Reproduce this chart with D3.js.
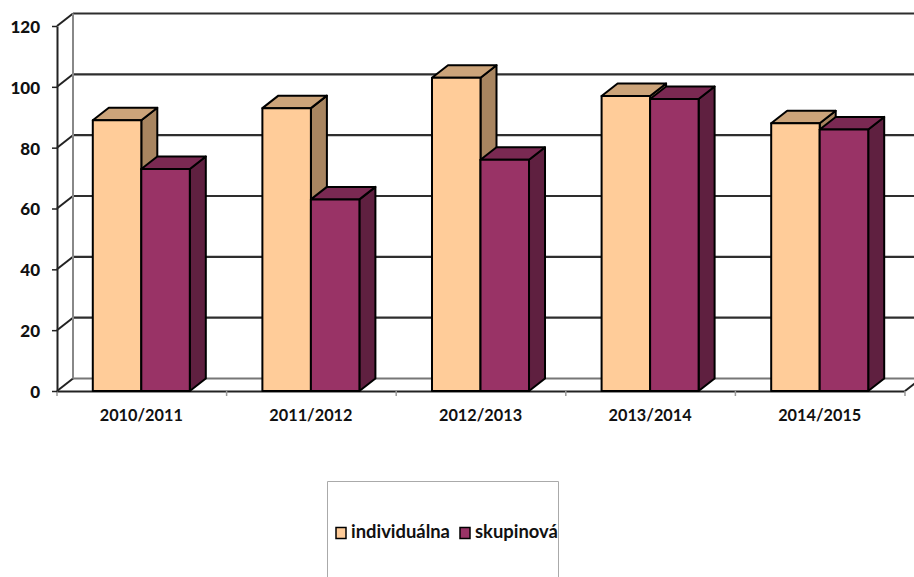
<!DOCTYPE html>
<html>
<head>
<meta charset="utf-8">
<script src="https://cdn.jsdelivr.net/npm/d3@7"></script>
<style>
html, body { margin: 0; padding: 0; background: #fff; overflow: hidden; }
svg { display: block; font-family: Lato, "Open Sans", sans-serif; font-weight: 700; }
</style>
</head>
<body>
<div id="chart"></div>
<script>
const years = ["2010/2011", "2011/2012", "2012/2013", "2013/2014", "2014/2015"];
const seriesNames = ["individuálna", "skupinová"];
const individualna = [89, 93, 103, 97, 88];
const skupinova = [73, 63, 76, 96, 86];
const yTicks = [0, 20, 40, 60, 80, 100, 120];

const colors = {
    "individuálna": { front: "#ffcc99", top: "#cca47a", side: "#a88560" },
    "skupinová": { front: "#993366", top: "#7a2952", side: "#5f2040" }
};

const width = 914, height = 577;
const depthX = 16, depthY = 12.5;

const wrapper = d3.select("#chart").append("svg")
    .attr("width", width)
    .attr("height", height);

const xScaler = d3.scaleBand()
    .domain(years)
    .range([56.5, 904.5])
    .paddingInner(0.428)
    .paddingOuter(0.214);

const xInner = d3.scaleBand()
    .domain(seriesNames)
    .range([0, xScaler.bandwidth()]);

const yScaler = d3.scaleLinear()
    .domain([0, 120])
    .range([391, 26]);

// back wall gridlines
const walls = wrapper.append("g");
walls.selectAll("line.grid")
    .data(yTicks)
    .enter().append("line")
    .attr("class", "grid")
    .attr("x1", 57 + depthX)
    .attr("x2", 905 + depthX)
    .attr("y1", d => yScaler(d) - depthY)
    .attr("y2", d => yScaler(d) - depthY)
    .attr("stroke", d => d == 0 ? "#777" : "#2e2e2e")
    .attr("stroke-width", 2.2);

// left wall diagonals
walls.selectAll("line.diag")
    .data(yTicks)
    .enter().append("line")
    .attr("class", "diag")
    .attr("x1", 57)
    .attr("x2", 57 + depthX)
    .attr("y1", d => yScaler(d))
    .attr("y2", d => yScaler(d) - depthY)
    .attr("stroke", "#222")
    .attr("stroke-width", 2);

walls.append("line")
    .attr("x1", 57 + depthX).attr("x2", 57 + depthX)
    .attr("y1", yScaler(120) - depthY).attr("y2", yScaler(0) - depthY)
    .attr("stroke", "#888")
    .attr("stroke-width", 2);

// right end of the floor
walls.append("line")
    .attr("x1", 905).attr("x2", 905 + depthX)
    .attr("y1", yScaler(0)).attr("y2", yScaler(0) - depthY)
    .attr("stroke", "#222")
    .attr("stroke-width", 2);

const xAxis = wrapper.append("g")
    .attr("transform", `translate(0,${yScaler(0)})`)
    .call(d3.axisBottom(xScaler).tickSize(0).tickPadding(18));
xAxis.select(".domain").attr("stroke", "#222").attr("stroke-width", 2);
xAxis.selectAll("text")
    .attr("font-size", "16.3px")
    .attr("font-family", "Lato")
    .attr("font-weight", 700)
    .attr("fill", "#111");

wrapper.append("g")
    .selectAll("line")
    .data(d3.range(years.length + 1))
    .enter().append("line")
    .attr("x1", i => 57 + i * xScaler.step())
    .attr("x2", i => 57 + i * xScaler.step())
    .attr("y1", yScaler(0))
    .attr("y2", yScaler(0) + 5)
    .attr("stroke", "#999")
    .attr("stroke-width", 1.5);

const yAxis = wrapper.append("g")
    .attr("transform", "translate(57,0)")
    .call(d3.axisLeft(yScaler).tickValues(yTicks).tickSize(5).tickPadding(12).tickSizeOuter(0));
yAxis.select(".domain").attr("stroke", "#222").attr("stroke-width", 2);
yAxis.selectAll(".tick line").attr("stroke", "#222").attr("stroke-width", 1.5);
yAxis.selectAll("text")
    .attr("font-size", "17px")
    .attr("font-family", "Lato")
    .attr("font-weight", 900)
    .attr("dy", "0.38em")
    .attr("fill", "#111");

// bars
const rows = years.flatMap((y, i) => [
    { year: y, name: seriesNames[0], value: individualna[i] },
    { year: y, name: seriesNames[1], value: skupinova[i] }
]);

const bars = wrapper.append("g").selectAll("g")
    .data(rows)
    .enter().append("g")
    .attr("stroke", "#000")
    .attr("stroke-width", 2)
    .attr("stroke-linejoin", "round");

const left = d => xScaler(d.year) + xInner(d.name);
const right = d => left(d) + xInner.bandwidth();

bars.append("path")
    .attr("fill", d => colors[d.name].side)
    .attr("d", d => `M${right(d)},${yScaler(d.value)}L${right(d) + depthX},${yScaler(d.value) - depthY}`
        + `L${right(d) + depthX},${yScaler(0) - depthY}L${right(d)},${yScaler(0)}Z`);

bars.append("path")
    .attr("fill", d => colors[d.name].top)
    .attr("d", d => `M${left(d)},${yScaler(d.value)}L${left(d) + depthX},${yScaler(d.value) - depthY}`
        + `L${right(d) + depthX},${yScaler(d.value) - depthY}L${right(d)},${yScaler(d.value)}Z`);

bars.append("rect")
    .attr("fill", d => colors[d.name].front)
    .attr("x", left)
    .attr("y", d => yScaler(d.value))
    .attr("width", xInner.bandwidth())
    .attr("height", d => yScaler(0) - yScaler(d.value));

// legend
const legend = wrapper.append("g");
legend.append("path")
    .attr("d", "M327.5,577V481.5H558.5V577")
    .attr("fill", "none")
    .attr("stroke", "#aaa")
    .attr("stroke-width", 1);

const legendX = [336, 460];
seriesNames.forEach((name, i) => {
    legend.append("rect")
        .attr("x", legendX[i]).attr("y", 527.5)
        .attr("width", 10).attr("height", 11)
        .attr("fill", colors[name].front)
        .attr("stroke", "#000")
        .attr("stroke-width", 1.5);
    legend.append("text")
        .attr("x", legendX[i] + 15).attr("y", 538)
        .attr("font-size", "18.4px")
        .attr("fill", "#111")
        .text(name);
});
</script>
</body>
</html>
